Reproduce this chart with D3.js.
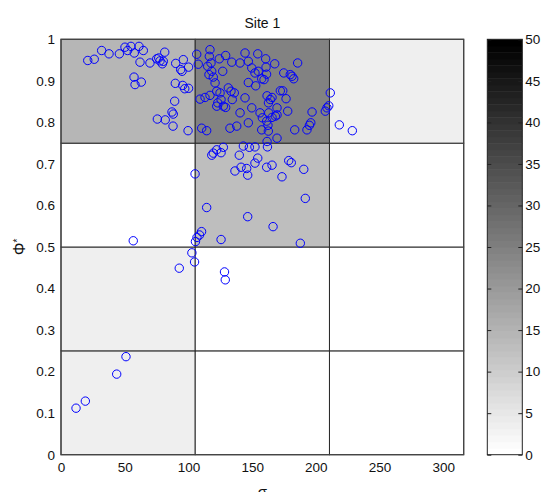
<!DOCTYPE html>
<html>
<head>
<meta charset="utf-8">
<script src="https://cdn.jsdelivr.net/npm/d3@7"></script>
<style>
    body { margin: 0; background: #fff; }
    text { font-family: Arial, "Liberation Sans", sans-serif; fill: #111; }
</style>
</head>
<body>
<div id="site_scatterplot"></div>
<script>
// measured points (sigma, phi*)
var sigmaValues = [
    21.0, 26.1, 31.9, 37.7, 45.8, 50.2, 54.9, 52.3, 57.5, 61.2, 64.6, 62.0, 57.3, 63.0, 58.1,
    69.8, 75.1, 77.7, 81.4, 79.5, 80.3, 76.7, 90.0, 96.0, 93.9, 95.0, 100.1, 89.7, 95.5, 97.1,
    100.1, 89.2, 87.1, 88.1, 75.6, 81.8, 87.9, 99.7,
    106.5, 107.7, 116.9, 116.4, 117.7, 115.1, 118.3, 116.1, 119.5, 120.9, 124.2, 129.2, 126.9,
    134.0, 140.5, 144.4, 147.0, 154.4, 160.6, 149.7, 152.2, 154.8, 157.5, 161.3, 159.3, 160.9,
    147.0, 152.8, 109.1, 113.0, 116.9, 122.2, 124.8, 125.6, 123.0, 122.2, 127.4, 129.2, 131.3,
    133.4, 136.0, 134.4, 144.4, 149.7, 140.5, 156.2, 158.0, 161.4, 161.7, 164.2, 165.6, 162.8,
    110.4, 114.3, 132.6, 137.9, 147.0, 157.5, 162.7, 162.4, 167.7, 174.8, 179.9, 181.3, 182.6,
    185.7, 172.1, 174.0, 176.6, 169.5, 177.9, 163.0, 165.6, 168.2, 169.5, 183.4, 193.0, 194.9,
    196.0, 197.0, 207.4, 208.7, 210.1, 211.3, 218.4, 228.6,
    169.5, 161.7, 162.0, 119.5, 118.3, 122.2, 125.6, 127.4, 139.9, 143.1, 147.8, 152.2, 136.5,
    141.3, 145.7, 146.5, 152.2, 154.4, 161.4, 165.6, 178.7, 180.7, 173.4, 190.5, 191.7, 166.4,
    187.8, 105.2, 114.3, 146.5, 110.3, 108.7, 106.7, 105.5, 125.6, 102.7, 104.8, 92.8, 128.3,
    128.9, 56.7,
    11.8, 19.1, 43.7, 51.0
];
var phiValues = [
    0.949, 0.952, 0.973, 0.965, 0.965, 0.981, 0.983, 0.973, 0.967, 0.983, 0.973, 0.945, 0.909, 0.897, 0.891,
    0.943, 0.953, 0.948, 0.969, 0.941, 0.947, 0.955, 0.942, 0.951, 0.927, 0.923, 0.933, 0.894, 0.889, 0.881,
    0.882, 0.851, 0.825, 0.820, 0.808, 0.806, 0.791, 0.780,
    0.964, 0.940, 0.975, 0.959, 0.943, 0.935, 0.923, 0.915, 0.909, 0.895, 0.953, 0.961, 0.923,
    0.945, 0.943, 0.967, 0.947, 0.965, 0.953, 0.931, 0.919, 0.923, 0.905, 0.916, 0.903, 0.933,
    0.896, 0.888, 0.856, 0.860, 0.865, 0.875, 0.871, 0.855, 0.847, 0.839, 0.839, 0.836, 0.883,
    0.875, 0.871, 0.855, 0.859, 0.835, 0.823, 0.823, 0.811, 0.803, 0.864, 0.855, 0.860, 0.847,
    0.786, 0.780, 0.786, 0.791, 0.799, 0.782, 0.779, 0.793, 0.941, 0.919, 0.915, 0.911, 0.905,
    0.943, 0.876, 0.876, 0.857, 0.835, 0.827, 0.823, 0.812, 0.815, 0.818, 0.782, 0.782, 0.793,
    0.799, 0.825, 0.827, 0.835, 0.840, 0.871, 0.794, 0.780,
    0.762, 0.754, 0.741, 0.726, 0.721, 0.734, 0.727, 0.740, 0.721, 0.743, 0.740, 0.741, 0.683,
    0.692, 0.689, 0.673, 0.702, 0.714, 0.692, 0.697, 0.708, 0.703, 0.669, 0.687, 0.617, 0.549,
    0.509, 0.676, 0.595, 0.573, 0.537, 0.529, 0.523, 0.513, 0.518, 0.486, 0.464, 0.449, 0.440,
    0.421, 0.515,
    0.112, 0.129, 0.194, 0.236
];

// bin edges and bin values (rows from the bottom)
var sigmaEdges = [0, 105.33, 210.67, 316];
var phiEdges = [0, 0.25, 0.5, 0.75, 1];
var cellValues = [
    [3.5, 0, 0],
    [3.5, 0, 0],
    [0, 13, 0],
    [14.5, 24.5, 3.5]
];

var xTicks = [0, 50, 100, 150, 200, 250, 300];
var yTicks = [0, 0.1, 0.2, 0.3, 0.4, 0.5, 0.6, 0.7, 0.8, 0.9, 1];
var cbTicks = [0, 5, 10, 15, 20, 25, 30, 35, 40, 45, 50];

var full_width = 543,
    full_height = 492;

var margin = {top: 39.3, right: 79.3, bottom: 37.3, left: 61};
var width = full_width - margin.left - margin.right;
var height = full_height - margin.top - margin.bottom;

var x = d3.scaleLinear()
    .domain([0, 316])
    .range([0, width]);

var y = d3.scaleLinear()
    .domain([0, 1])
    .range([height, 0]);

// flipped 64-level gray map, 0..50
var nColors = 64;
function shade(v) {
    var idx = Math.max(0, Math.min(nColors - 1, Math.floor(v / 50 * nColors)));
    var g = Math.round(255 * (1 - idx / (nColors - 1)));
    return d3.rgb(g, g, g).toString();
}

var svg = d3.select("#site_scatterplot")
    .append("svg")
    .attr("width", full_width)
    .attr("height", full_height);

var g = svg.append("g")
    .attr("transform", "translate(" + margin.left + "," + margin.top + ")");

// Cells
var cells = [];
cellValues.forEach(function(row, r) {
    row.forEach(function(v, c) {
        cells.push({c: c, r: r, v: v});
    });
});

g.selectAll("rect.cell")
    .data(cells)
    .enter()
    .append("rect")
    .attr("class", "cell")
    .attr("x", function(d) { return x(sigmaEdges[d.c]); })
    .attr("y", function(d) { return y(phiEdges[d.r + 1]); })
    .attr("width", function(d) { return x(sigmaEdges[d.c + 1]) - x(sigmaEdges[d.c]); })
    .attr("height", function(d) { return y(phiEdges[d.r]) - y(phiEdges[d.r + 1]); })
    .attr("fill", function(d) { return shade(d.v); })
    .attr("stroke", "#2a2a2a")
    .attr("stroke-width", 1);

// frame
g.append("rect")
    .attr("width", width)
    .attr("height", height)
    .attr("fill", "none")
    .attr("stroke", "#444")
    .attr("stroke-width", 1.2);

// Points
g.selectAll("circle")
    .data(sigmaValues)
    .enter()
    .append("circle")
    .attr("cx", function(d) { return x(d); })
    .attr("cy", function(d, i) { return y(phiValues[i]); })
    .attr("r", 4.2)
    .attr("fill", "none")
    .attr("stroke", "#0000ff")
    .attr("stroke-width", 1);

// X Axis
var xAxis = g.append("g")
    .attr("transform", "translate(0," + height + ")")
    .call(d3.axisBottom(x).tickValues(xTicks).tickSize(0).tickPadding(8));
xAxis.select(".domain").remove();

// Y Axis
var yAxis = g.append("g")
    .call(d3.axisLeft(y).tickValues(yTicks).tickSize(0).tickPadding(6)
        .tickFormat(function(d) { return d3.format("~g")(d); }));
yAxis.select(".domain").remove();

svg.selectAll(".tick text")
    .style("font-size", "13.5px")
    .style("font-family", "Arial, 'Liberation Sans', sans-serif")
    .attr("fill", "#111");

// Title
svg.append("text")
    .attr("x", margin.left + width / 2)
    .attr("y", 28)
    .style("text-anchor", "middle")
    .style("font-size", "14px")
    .text("Site 1");

// X Axis label (cut by the bottom edge, as in the original)
svg.append("text")
    .attr("x", margin.left + width / 2)
    .attr("y", 497)
    .style("text-anchor", "middle")
    .style("font-size", "15px")
    .text("σ");

// Y Axis label
var ylab = svg.append("text")
    .attr("transform", "translate(25," + (margin.top + height / 2) + ") rotate(-90)")
    .style("text-anchor", "middle")
    .style("font-size", "16px");
ylab.append("tspan").text("Φ");
ylab.append("tspan")
    .attr("dy", "-0.45em")
    .style("font-size", "10px")
    .text("*");

// Colorbar
var cbLeft = 487.3,
    cbWidth = 35;

var cb = d3.scaleLinear()
    .domain([0, 50])
    .range([margin.top + height, margin.top]);

var bands = d3.range(nColors);
svg.selectAll("rect.band")
    .data(bands)
    .enter()
    .append("rect")
    .attr("class", "band")
    .attr("x", cbLeft)
    .attr("y", function(i) { return cb((i + 1) * 50 / nColors); })
    .attr("width", cbWidth)
    .attr("height", function(i) { return cb(i * 50 / nColors) - cb((i + 1) * 50 / nColors) + 0.5; })
    .attr("fill", function(i) {
        var gv = Math.round(255 * (1 - i / (nColors - 1)));
        return d3.rgb(gv, gv, gv).toString();
    });

svg.append("rect")
    .attr("x", cbLeft)
    .attr("y", margin.top)
    .attr("width", cbWidth)
    .attr("height", height)
    .attr("fill", "none")
    .attr("stroke", "#222")
    .attr("stroke-width", 1);

var cbAxis = svg.append("g")
    .attr("transform", "translate(" + (cbLeft + cbWidth) + ",0)")
    .call(d3.axisRight(cb).tickValues(cbTicks).tickSize(-4).tickPadding(3));
cbAxis.select(".domain").remove();
cbAxis.selectAll("line").attr("stroke", "#222");
cbAxis.selectAll("text")
    .style("font-size", "13.5px")
    .style("font-family", "Arial, 'Liberation Sans', sans-serif")
    .attr("fill", "#111");

var cbAxisL = svg.append("g")
    .attr("transform", "translate(" + cbLeft + ",0)")
    .call(d3.axisLeft(cb).tickValues(cbTicks).tickSize(-4).tickFormat(""));
cbAxisL.select(".domain").remove();
cbAxisL.selectAll("line").attr("stroke", "#222");
</script>
</body>
</html>
